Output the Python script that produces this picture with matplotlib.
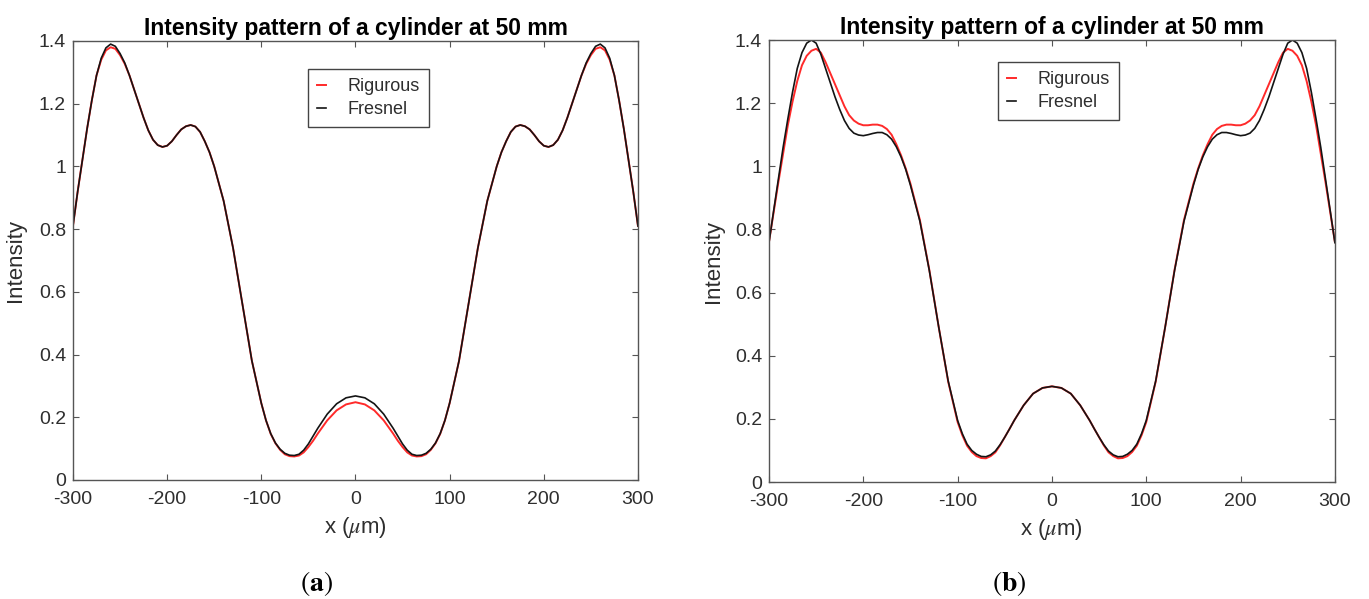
import numpy as np
import matplotlib; matplotlib.use('Agg'); import matplotlib.pyplot as plt

plt.rcParams['font.family'] = ['Liberation Sans', 'DejaVu Sans']
plt.rcParams['axes.unicode_minus'] = False
plt.rcParams['mathtext.fontset'] = 'stix'

# ---- data (x in um, intensity) ----
X_UM = [-300, -295, -290, -285, -280, -275, -270, -265, -260, -255, -250, -245, -240, -235, -230,
        -225, -220, -215, -210, -205, -200, -195, -190, -185, -180, -175, -170, -165, -160, -155,
        -150, -140, -130, -120, -110, -100, -95, -90, -85, -80, -75, -70, -65, -60, -55, -50, -45,
        -40, -30, -20, -10, 0,
        10, 20, 30, 40, 45, 50, 55, 60, 65, 70, 75, 80, 85, 90, 95, 100, 110, 120, 130, 140, 150,
        155, 160, 165, 170, 175, 180, 185, 190, 195, 200, 205, 210, 215, 220, 225, 230, 235, 240,
        245, 250, 255, 260, 265, 270, 275, 280, 285, 290, 295, 300]

# (a)
FRESNEL_A = [0.81, 0.92, 1.02, 1.12, 1.21, 1.29, 1.345, 1.378, 1.39, 1.383, 1.36, 1.33, 1.29, 1.245, 1.20,
             1.155, 1.115, 1.085, 1.068, 1.062, 1.066, 1.08, 1.10, 1.118, 1.128, 1.132, 1.127, 1.11, 1.08, 1.045,
             1.00, 0.89, 0.74, 0.56, 0.38, 0.245, 0.19, 0.148, 0.118, 0.098, 0.085, 0.079, 0.078, 0.082, 0.095,
             0.115, 0.14, 0.165, 0.21, 0.243, 0.262, 0.268,
             0.262, 0.243, 0.21, 0.165, 0.14, 0.115, 0.095, 0.082, 0.078, 0.079, 0.085, 0.098, 0.118, 0.148,
             0.19, 0.245, 0.38, 0.56, 0.74, 0.89, 1.00, 1.045, 1.08, 1.11, 1.127, 1.132, 1.128, 1.118, 1.10,
             1.08, 1.066, 1.062, 1.068, 1.085, 1.115, 1.155, 1.20, 1.245, 1.29, 1.33, 1.36, 1.383, 1.39, 1.378,
             1.345, 1.29, 1.21, 1.12, 1.02, 0.92, 0.81]
RIGOROUS_A = [0.81, 0.92, 1.02, 1.12, 1.21, 1.29, 1.34, 1.37, 1.38, 1.375, 1.355, 1.327, 1.29, 1.245, 1.20,
              1.155, 1.115, 1.085, 1.068, 1.062, 1.066, 1.08, 1.10, 1.118, 1.128, 1.132, 1.127, 1.11, 1.08, 1.045,
              1.00, 0.89, 0.74, 0.56, 0.38, 0.245, 0.19, 0.147, 0.117, 0.096, 0.082, 0.076, 0.075, 0.078, 0.088,
              0.105, 0.125, 0.148, 0.19, 0.222, 0.241, 0.248,
              0.241, 0.222, 0.19, 0.148, 0.125, 0.105, 0.088, 0.078, 0.075, 0.076, 0.082, 0.096, 0.117, 0.147,
              0.19, 0.245, 0.38, 0.56, 0.74, 0.89, 1.00, 1.045, 1.08, 1.11, 1.127, 1.132, 1.128, 1.118, 1.10,
              1.08, 1.066, 1.062, 1.068, 1.085, 1.115, 1.155, 1.20, 1.245, 1.29, 1.327, 1.355, 1.375, 1.38, 1.37,
              1.34, 1.29, 1.21, 1.12, 1.02, 0.92, 0.81]

# (b)
FRESNEL_B = [0.758, 0.86, 0.96, 1.06, 1.15, 1.235, 1.31, 1.36, 1.39, 1.40, 1.39, 1.355, 1.31, 1.265, 1.22,
             1.18, 1.145, 1.12, 1.105, 1.099, 1.097, 1.10, 1.104, 1.107, 1.107, 1.10, 1.086, 1.062, 1.03, 0.99,
             0.94, 0.826, 0.67, 0.49, 0.32, 0.195, 0.153, 0.12, 0.10, 0.088, 0.081, 0.08, 0.086, 0.098, 0.118,
             0.142, 0.168, 0.195, 0.243, 0.28, 0.298, 0.303,
             0.298, 0.28, 0.243, 0.195, 0.168, 0.142, 0.118, 0.098, 0.086, 0.08, 0.081, 0.088, 0.10, 0.12,
             0.153, 0.195, 0.32, 0.49, 0.67, 0.826, 0.94, 0.99, 1.03, 1.062, 1.086, 1.10, 1.107, 1.107, 1.104,
             1.10, 1.097, 1.099, 1.105, 1.12, 1.145, 1.18, 1.22, 1.265, 1.31, 1.355, 1.39, 1.40, 1.39, 1.36,
             1.31, 1.235, 1.15, 1.06, 0.96, 0.86, 0.758]
RIGOROUS_B = [0.76, 0.855, 0.95, 1.04, 1.13, 1.205, 1.27, 1.32, 1.35, 1.366, 1.372, 1.36, 1.33, 1.295, 1.26,
              1.225, 1.19, 1.162, 1.145, 1.135, 1.13, 1.13, 1.132, 1.132, 1.128, 1.118, 1.10, 1.07, 1.035, 0.993,
              0.945, 0.83, 0.672, 0.49, 0.318, 0.19, 0.148, 0.115, 0.095, 0.082, 0.076, 0.075, 0.082, 0.094, 0.116,
              0.142, 0.168, 0.195, 0.243, 0.28, 0.298, 0.303,
              0.298, 0.28, 0.243, 0.195, 0.168, 0.142, 0.116, 0.094, 0.082, 0.075, 0.076, 0.082, 0.095, 0.115,
              0.148, 0.19, 0.318, 0.49, 0.672, 0.83, 0.945, 0.993, 1.035, 1.07, 1.10, 1.118, 1.128, 1.132, 1.132,
              1.13, 1.13, 1.135, 1.145, 1.162, 1.19, 1.225, 1.26, 1.295, 1.33, 1.36, 1.372, 1.366, 1.35, 1.32,
              1.27, 1.205, 1.13, 1.04, 0.95, 0.855, 0.76]

XTICKS = [-300, -200, -100, 0, 100, 200, 300]
YTICKS = [0, 0.2, 0.4, 0.6, 0.8, 1.0, 1.2, 1.4]
YTICKLABELS = ['0', '0.2', '0.4', '0.6', '0.8', '1', '1.2', '1.4']
TITLE = 'Intensity pattern of a cylinder at 50 mm'
SERIES = ['Rigurous', 'Fresnel']

for s in (FRESNEL_A, RIGOROUS_A, FRESNEL_B, RIGOROUS_B):
    assert len(s) == len(X_UM)

GRAY = '#555555'
TXT = '#2e2e2e'

fig = plt.figure(figsize=(13.69, 5.99), dpi=100)
ax_a = fig.add_axes([0.0533, 0.1987, 0.4127, 0.7329])
ax_b = fig.add_axes([0.5617, 0.1953, 0.4134, 0.7379])

panels = [(ax_a, RIGOROUS_A, FRESNEL_A, (0.416, 0.936), 'a', 316, -0.083),
          (ax_b, RIGOROUS_B, FRESNEL_B, (0.405, 0.95), 'b', 1009, -0.08)]
for ax, rig, fre, lpos, tag, xc, ylx in panels:
    ax.plot(X_UM, rig, color='#ff2a2a', lw=1.4, label=SERIES[0])
    ax.plot(X_UM, fre, color='#141414', lw=1.2, label=SERIES[1])
    ax.set_xlim(-300, 300); ax.set_ylim(0, 1.4)
    ax.set_xticks(XTICKS); ax.set_yticks(YTICKS); ax.set_yticklabels(YTICKLABELS)
    ax.tick_params(direction='in', top=True, right=True, length=4, width=0.8, color=GRAY,
                   labelcolor=TXT, labelsize=14)
    ax.tick_params(axis='x', pad=8)
    ax.tick_params(axis='y', pad=5)
    for s in ax.spines.values():
        s.set_color(GRAY); s.set_linewidth(1.0)
    ax.set_title(TITLE, fontsize=16.5, fontweight='bold', pad=4)
    ax.set_xlabel(r'x ($\mu$m)', fontsize=16, color=TXT, labelpad=5)
    ax.set_ylabel('Intensity', fontsize=16, color=TXT)
    ax.yaxis.set_label_coords(ylx, 0.5)
    leg = ax.legend(loc='upper left', bbox_to_anchor=lpos, borderaxespad=0, fontsize=13,
                    handlelength=0.5, handletextpad=1.2, fancybox=False, framealpha=1,
                    borderpad=0.5, labelspacing=0.35)
    leg.get_frame().set_edgecolor('#444444'); leg.get_frame().set_linewidth(1.0)
    for t in leg.get_texts():
        t.set_color(TXT)
    fig.text(xc / 1369, 1 - 583 / 599, r'$(\mathbf{' + tag + '})$', ha='center', va='center',
             fontsize=20)

fig.savefig('out.png', dpi=100)
